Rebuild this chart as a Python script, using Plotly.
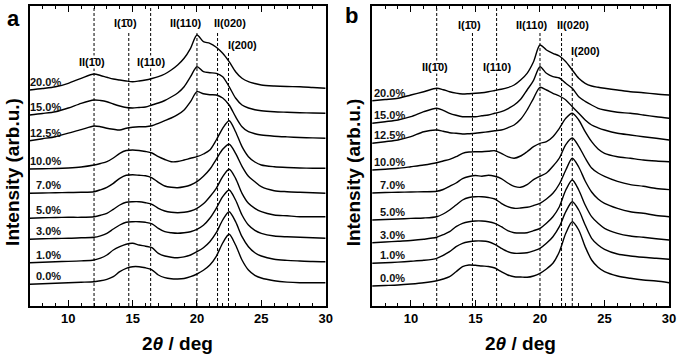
import plotly.graph_objects as go

# ---------------- data ----------------
X = [7, 8, 9, 10, 11, 12, 12.5, 13, 13.5, 14, 14.5, 15, 15.5, 16, 16.5, 17, 17.5, 18,
     18.5, 19, 19.5, 20, 20.5, 21, 21.5, 22, 22.5, 23, 23.5, 24, 24.5, 25, 26, 27, 28, 29, 30]

LABELS = ["0.0%", "1.0%", "3.0%", "5.0%", "7.0%", "10.0%", "12.5%", "15.0%", "20.0%"]

# panel a: intensities above each curve's own baseline
A00 = [0, 0.5, 1, 1.5, 2, 2.6, 3.5, 5, 7.6, 12.6, 16, 17.6, 17.6, 16.5, 14.5, 9.3, 6.6, 5.5, 5.3, 5.8, 7.6, 10.3, 14, 19.3, 28, 41.3, 50, 39.3, 24.3, 14.3, 9, 6.3, 3.6, 2.2, 1.6, 1.6, 1.6]
A01 = [0, 0.5, 1, 1.3, 1.8, 2.7, 4.5, 7.7, 12.7, 16, 18.5, 19.4, 17.7, 16.5, 15, 9.4, 6.7, 5.5, 5, 5.8, 7.7, 11, 15, 21, 30, 42.7, 51, 41, 26, 16, 10, 6.7, 3.4, 2.3, 1.7, 1.2, 1]
A03 = [0, 0.5, 0.8, 1, 1.5, 2, 3.5, 6, 10.3, 14.3, 17, 17.6, 17.6, 17, 15.5, 11, 7.6, 6.5, 6, 6.5, 7.6, 10, 14, 21, 31, 42.6, 49.3, 39.3, 24.3, 14.3, 9, 6, 3.3, 2.5, 2, 1.5, 1]
A05 = [0, 0.5, 0.8, 1, 1, 1.6, 3, 5, 9, 13.3, 16, 16.6, 16.6, 15.6, 14, 10, 7.3, 6, 5.6, 6, 7.3, 10, 14.5, 21.6, 30, 41.6, 49, 40, 25, 15, 10, 6.6, 3.3, 2.5, 1.6, 1.6, 1.6]
A07 = [0, 0.3, 0.5, 0.8, 1, 1.6, 3.5, 6, 10, 15, 18, 18.5, 18, 17.5, 15.5, 11, 7.3, 6, 5.6, 6.5, 8.3, 11.6, 17, 24, 34, 44, 49, 40, 27, 17, 11.6, 6.6, 2.6, 1.6, 1, 0.5, 0]
A10 = [0, 0.3, 0.5, 1, 2, 4, 5.5, 7.3, 11, 15.7, 18.5, 19, 18.5, 17.5, 16, 12.3, 9.5, 7.3, 7.5, 9, 10.7, 12.3, 15, 19, 29, 40.7, 48.3, 37.3, 22.3, 12.3, 7, 4, 2.3, 1.5, 1, 0.8, 0.7]
A125 = [0, 2, 4, 7.6, 11, 14.7, 14, 12.5, 11.5, 10.7, 12.5, 13.5, 14, 14, 15, 17.4, 20, 22.7, 26, 30.7, 39, 49, 47, 46, 45.7, 42.7, 35.7, 24, 14, 9, 7, 5.7, 4.5, 3.8, 3.2, 2.8, 2.4]
A15 = [0, 1.5, 3.3, 7, 11.7, 15, 14.5, 13.3, 11, 9, 7.5, 7, 7.5, 8, 10, 12, 14.5, 18, 22, 28.3, 38.3, 48.3, 43.3, 42.3, 41.7, 38.3, 28.3, 17, 10, 7, 5.3, 4.3, 3.3, 2.8, 2.3, 2, 1.7]
A20 = [0, 1.5, 3.3, 6.7, 11.7, 16, 14.5, 12.7, 11, 10, 9, 8.3, 9, 10, 11.5, 13.3, 16, 20, 25, 31.7, 41.7, 55, 48.3, 46.7, 42.7, 36.7, 28.3, 18.3, 11.7, 8.3, 6.5, 5, 4, 3.5, 3.3, 2.5, 1.7]
A_OFFSETS = [21.7, 43.3, 66.7, 87.7, 112.7, 137, 165.3, 191, 216]

# panel b
B00 = [0, 0.5, 1, 2, 3.3, 5.3, 7, 9.3, 14.3, 19.3, 21, 20.7, 20, 19.5, 18, 14.3, 11, 9.3, 9, 8.7, 10, 12.7, 17, 22.7, 34.3, 52.7, 64.3, 56, 39.3, 26, 18.7, 14.3, 10, 7.7, 6, 5, 3.3]
B01 = [0, 0.5, 1.2, 2, 3, 5, 8, 11.6, 16.6, 20, 21.5, 22.3, 22.3, 21.6, 19, 15, 11.6, 10, 10, 10.6, 12.5, 15, 20, 26.6, 36.6, 51.6, 61.6, 53.3, 38.3, 25, 18.3, 14, 9.3, 7.3, 6, 5, 4]
B03 = [0, 0.7, 1.5, 2.2, 3.4, 5.4, 8, 11, 16, 19.4, 21, 21.7, 21.7, 21, 19.4, 16, 12, 10, 9.7, 10, 12, 14.4, 19.5, 26, 36, 52.7, 62.7, 52.7, 37.7, 26, 19.4, 14.4, 9.4, 6.7, 5.4, 4, 2.7]
B05 = [0, 0.5, 1, 1.6, 2, 3.3, 6, 10, 15, 20, 22.5, 23.3, 23.3, 22.5, 21, 16.7, 13.3, 11.7, 12, 12.7, 14.5, 16.7, 21, 26.7, 36, 50, 61.7, 53, 39, 28, 21, 16.7, 11.7, 8.3, 6.7, 4.5, 3.3]
B07 = [0, 0.5, 0.8, 1, 1.2, 1.7, 3.5, 6.7, 10, 14.4, 16.5, 17.5, 16.7, 17.7, 16.7, 14.4, 10, 6.7, 5.7, 8.4, 13.4, 16.7, 20, 26.7, 35, 48.4, 55, 46.7, 35, 25, 20, 16.7, 11.7, 8.4, 6.7, 4.5, 3.4]
B10 = [0, 0.8, 1.7, 3.3, 5, 7.3, 9, 10.7, 13.3, 16.7, 18, 18.3, 18.3, 18.7, 19.3, 16.7, 13.3, 11.7, 14, 18.3, 23.3, 26.7, 28.3, 33.3, 41.7, 51.7, 56.7, 50, 38.3, 28.3, 21, 16.7, 13.3, 11.7, 10, 9, 8.3]
B125 = [0, 1.6, 3.3, 6.6, 11.6, 13.3, 12, 10.6, 10, 9.3, 9.6, 10, 10.8, 11.6, 12.5, 13.3, 15.5, 18.3, 24, 33.3, 45, 56, 53.3, 50, 47.3, 43.3, 36.6, 30, 23.3, 18.3, 15.5, 13.3, 10, 8.3, 6.6, 5, 3.3]
B15 = [0, 1.6, 3.3, 6.6, 11.6, 15, 13, 10, 8, 6.6, 6.6, 6.6, 7.5, 8.3, 10, 11.6, 14.5, 18.3, 24, 33.3, 43, 56.6, 50, 46.6, 45.3, 40, 35, 26.6, 22, 18.3, 15, 13.3, 11, 10, 8.3, 6.5, 5]
B20 = [0, 1.2, 2.4, 5.7, 9, 12.4, 11, 9, 7.6, 6.7, 7, 7.4, 8, 9, 10.2, 11.4, 13, 15.7, 20.7, 27.4, 39, 55.7, 50.7, 47.4, 44.7, 39, 30.7, 22.4, 17.4, 14.7, 13.4, 12.4, 10.7, 9, 8, 6.7, 5.7]
B_OFFSETS = [20, 42.7, 63.3, 86, 113, 136, 162.7, 182.7, 205.3]

# reflection positions (deg) and their labels
A_LINES = [12.0, 14.7, 16.4, 20.0, 21.6, 22.45]
B_LINES = [12.0, 14.77, 16.64, 20.0, 21.67, 22.5]
PEAK_LABELS = ["II(1\u03040)", "I(1\u03040)", "I(110)", "II(110)", "II(020)", "I(200)"]

# ---------------- styling / layout ----------------
FONT = "Liberation Sans, Arial, sans-serif"
A_SERIES = [A00, A01, A03, A05, A07, A10, A125, A15, A20]
B_SERIES = [B00, B01, B03, B05, B07, B10, B125, B15, B20]

fig = go.Figure()

for series, offs, xa, ya in [(A_SERIES, A_OFFSETS, "x", "y"), (B_SERIES, B_OFFSETS, "x2", "y2")]:
    for vals, off in zip(series, offs):
        fig.add_trace(go.Scatter(
            x=X, y=[v + off for v in vals], mode="lines",
            line=dict(color="black", width=1.4, shape="spline", smoothing=0.8),
            xaxis=xa, yaxis=ya, showlegend=False, hoverinfo="skip"))

# dashed reference lines: top ends (data y) chosen to stop under labels
LINE_TOPS_A = [298, 274, 298, 273, 274, 256]
LINE_TOPS_B = [298, 274, 298, 274, 274, 250]
shapes = []
for lines, tops, xr, yr in [(A_LINES, LINE_TOPS_A, "x", "y"), (B_LINES, LINE_TOPS_B, "x2", "y2")]:
    for xv, top in zip(lines, tops):
        shapes.append(dict(type="line", xref=xr, yref=yr, x0=xv, x1=xv, y0=0, y1=top,
                           line=dict(color="black", width=1, dash="3px,2px"), layer="below"))

annotations = []
# peak labels
A_LAB_POS = [(11.85, 244), (14.46, 283), (16.46, 244), (19.15, 283), (22.54, 283), (23.54, 261)]
B_LAB_POS = [(11.9, 239), (14.52, 281), (16.66, 239), (19.35, 281), (22.57, 281), (23.56, 255)]
for pos, xr, yr in [(A_LAB_POS, "x", "y"), (B_LAB_POS, "x2", "y2")]:
    for txt, (xv, yv) in zip(PEAK_LABELS, pos):
        annotations.append(dict(text=txt, x=xv, y=yv, xref=xr, yref=yr, showarrow=False,
                                xanchor="center", yanchor="middle",
                                font=dict(family=FONT, size=11, color="black", weight="bold"),
                                bgcolor="white", borderpad=0))
# concentration labels
for offs, xr, yr, xl in [(A_OFFSETS, "x", "y", 9.62), (B_OFFSETS, "x2", "y2", 9.68)]:
    for txt, off in zip(LABELS, offs):
        annotations.append(dict(text=txt, x=xl, y=off + 8, xref=xr, yref=yr, showarrow=False,
                                xanchor="right", yanchor="middle",
                                font=dict(family=FONT, size=11, color="#111", weight="bold")))
# panel letters
annotations.append(dict(text="a", x=14 / 685, y=1 - 19 / 359, xref="paper", yref="paper",
                        xanchor="center", yanchor="middle", showarrow=False,
                        font=dict(family=FONT, size=22, color="black", weight="bold")))
annotations.append(dict(text="b", x=355 / 685, y=1 - 16 / 359, xref="paper", yref="paper",
                        xanchor="center", yanchor="middle", showarrow=False,
                        font=dict(family=FONT, size=22, color="black", weight="bold")))
# axis titles
for cx in [(30 + 329) / 2 / 685, (376 + 676) / 2 / 685]:
    annotations.append(dict(text="2<i>\u03b8</i> / deg", x=cx, y=1 - 343 / 359, xref="paper", yref="paper",
                            xanchor="center", yanchor="middle", showarrow=False,
                            font=dict(family=FONT, size=19, color="black", weight="bold")))
for cx in [12 / 685, 357 / 685]:
    annotations.append(dict(text="Intensity (arb.u.)", x=cx, y=1 - 172 / 359, xref="paper", yref="paper",
                            xanchor="center", yanchor="middle", showarrow=False, textangle=-90,
                            font=dict(family=FONT, size=19, color="black", weight="bold")))

xcommon = dict(range=[7, 30], tickvals=[10, 15, 20, 25, 30], ticks="inside", ticklen=6, tickwidth=1.2,
               tickcolor="black", showline=True, linecolor="black", linewidth=1.5, mirror="ticks",
               showgrid=False, zeroline=False,
               tickfont=dict(family=FONT, size=13, color="black", weight="bold"),
               minor=dict(dtick=1, tick0=7, ticks="inside", ticklen=3, tickwidth=1, tickcolor="black", showgrid=False))
ycommon = dict(range=[0, 300], showticklabels=False, ticks="", showline=True, linecolor="black",
               linewidth=1.5, mirror=True, showgrid=False, zeroline=False,
               domain=[1 - 306 / 359, 1 - 6 / 359])

fig.update_layout(
    width=685, height=359, margin=dict(l=0, r=0, t=0, b=0),
    paper_bgcolor="white", plot_bgcolor="white",
    xaxis=dict(domain=[30 / 685, 329 / 685], anchor="y", **xcommon),
    xaxis2=dict(domain=[376 / 685, 676 / 685], anchor="y2", **xcommon),
    yaxis=dict(anchor="x", **ycommon),
    yaxis2=dict(anchor="x2", **ycommon),
    shapes=shapes, annotations=annotations,
)

fig.write_html("out.html", config={"displayModeBar": False},
               post_script="document.body.style.margin='0';document.body.style.overflow='hidden';")
